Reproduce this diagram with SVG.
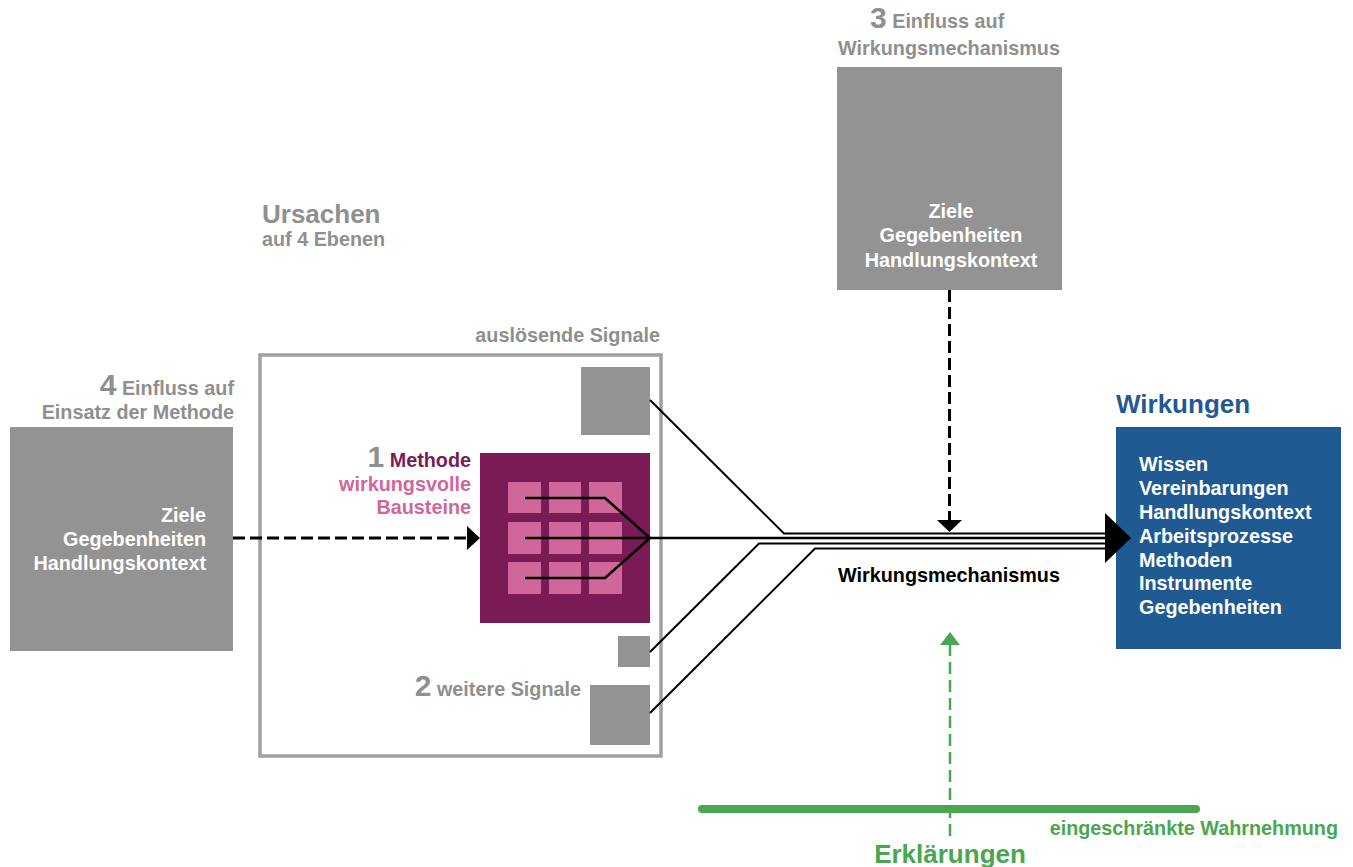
<svg xmlns="http://www.w3.org/2000/svg" width="1353" height="867" viewBox="0 0 1353 867">
<style>
text{font-family:"Liberation Sans",Arial,sans-serif;font-weight:bold;font-size:19.8px}
.big{font-size:26px}
.g{fill:#8f8f8f}
.w{fill:#ffffff}
.num{font-size:30px}
.box{fill:#939393}
.pink{fill:#d0679a}
.ln{fill:none;stroke:#000;stroke-width:2.5}
.hl{fill:none;stroke:#000;stroke-width:2}
.dash{fill:none;stroke:#000;stroke-width:3;stroke-dasharray:12 5}
.gdash{fill:none;stroke:#4aa74f;stroke-width:2.5;stroke-dasharray:12 6}
</style>
<rect width="1353" height="867" fill="#ffffff"/>

<g id="ursachen-label">
<text class="g big" x="262" y="223">Ursachen</text>
<text class="g" x="262" y="246">auf 4 Ebenen</text>
</g>

<g id="einfluss-methode">
<text class="g" x="234" y="395" text-anchor="end"><tspan class="num">4</tspan> Einfluss auf</text>
<text class="g" x="234" y="419" text-anchor="end">Einsatz der Methode</text>
<rect class="box" x="10" y="427" width="223" height="224"/>
<text class="w" x="206" y="522" text-anchor="end">Ziele</text>
<text class="w" x="206" y="546" text-anchor="end">Gegebenheiten</text>
<text class="w" x="206" y="570" text-anchor="end">Handlungskontext</text>
</g>

<g id="signale-rahmen">
<text class="g" x="660" y="342" text-anchor="end">auslösende Signale</text>
<rect x="260" y="355" width="401" height="401" fill="none" stroke="#a0a0a0" stroke-width="3.5"/>
</g>

<g id="signal-oben">
<rect class="box" x="581" y="367" width="69" height="68"/>
</g>

<g id="methode">
<text x="471" y="467" text-anchor="end"><tspan class="num g">1</tspan> <tspan fill="#7a1b55">Methode</tspan></text>
<text x="471" y="491" text-anchor="end" fill="#d0679a">wirkungsvolle</text>
<text x="471" y="514" text-anchor="end" fill="#d0679a">Bausteine</text>
<rect x="480" y="453" width="170" height="170" fill="#7a1b55"/>
<rect class="pink" x="508" y="482" width="33" height="31"/>
<rect class="pink" x="549" y="482" width="32" height="31"/>
<rect class="pink" x="589" y="482" width="33" height="31"/>
<rect class="pink" x="508" y="522" width="33" height="32"/>
<rect class="pink" x="549" y="522" width="32" height="32"/>
<rect class="pink" x="589" y="522" width="33" height="32"/>
<rect class="pink" x="508" y="562" width="33" height="32"/>
<rect class="pink" x="549" y="562" width="32" height="32"/>
<rect class="pink" x="589" y="562" width="33" height="32"/>
</g>

<g id="signal-klein">
<rect class="box" x="618" y="636" width="32" height="31"/>
</g>

<g id="weitere-signale">
<text class="g" x="581" y="696" text-anchor="end"><tspan class="num">2</tspan> weitere Signale</text>
<rect class="box" x="590" y="685" width="60" height="60"/>
</g>

<g id="einfluss-wirkungsmechanismus">
<text class="g" x="870" y="28"><tspan class="num">3</tspan> Einfluss auf</text>
<text class="g" x="949" y="55" text-anchor="middle">Wirkungsmechanismus</text>
<rect class="box" x="837" y="67" width="225" height="223"/>
<text class="w" x="951" y="218" text-anchor="middle">Ziele</text>
<text class="w" x="951" y="242" text-anchor="middle">Gegebenheiten</text>
<text class="w" x="951" y="267" text-anchor="middle">Handlungskontext</text>
</g>

<g id="wirkungen">
<text class="big" x="1116" y="413" fill="#1f5a93">Wirkungen</text>
<rect x="1116" y="427" width="225" height="222" fill="#1f5a93"/>
<text class="w" x="1139" y="471">Wissen</text>
<text class="w" x="1139" y="495">Vereinbarungen</text>
<text class="w" x="1139" y="519">Handlungskontext</text>
<text class="w" x="1139" y="543">Arbeitsprozesse</text>
<text class="w" x="1139" y="567">Methoden</text>
<text class="w" x="1139" y="590">Instrumente</text>
<text class="w" x="1139" y="614">Gegebenheiten</text>
</g>

<g id="wirkungsmechanismus-label">
<text x="949" y="582" text-anchor="middle" fill="#000">Wirkungsmechanismus</text>
</g>

<g id="erklaerungen">
<line x1="702" y1="809" x2="1196" y2="809" stroke="#4aa74f" stroke-width="8" stroke-linecap="round"/>
<text x="1338" y="835" text-anchor="end" fill="#4aa74f">eingeschränkte Wahrnehmung</text>
<text class="big" x="950" y="863" text-anchor="middle" fill="#4aa74f">Erklärungen</text>
</g>

<g id="connectors">
<path class="dash" d="M233 538 H468"/>
<polygon points="467,526 480,538 467,550" fill="#000"/>
<path class="ln" d="M525 498 H605 L650 538"/>
<path class="ln" d="M525 578 H605 L650 538"/>
<path class="ln" d="M525 538 H1106"/>
<path class="hl" d="M650 400 L784 533.5 H1106"/>
<path class="hl" d="M650 652 L759 543.5 H1106"/>
<path class="hl" d="M650 713 L815 548.5 H1106"/>
<polygon points="1105,513 1131,538 1105,563" fill="#000"/>
<path class="dash" d="M949.5 290 V521" stroke-dasharray="10 5"/>
<polygon points="937,520 962,520 949.5,532" fill="#000"/>
<path class="gdash" d="M950 644 V837"/>
<polygon points="940,645 960,645 950,632" fill="#4aa74f"/>
</g>
</svg>
